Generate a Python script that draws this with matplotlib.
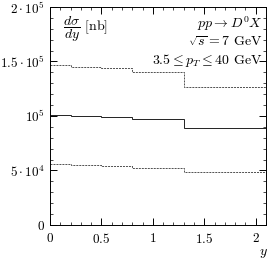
import numpy as np
import matplotlib
matplotlib.use("Agg")
import matplotlib.pyplot as plt
from matplotlib.ticker import FixedLocator, FixedFormatter, MultipleLocator

plt.rcParams["mathtext.fontset"] = "cm"
plt.rcParams["font.family"] = "serif"
plt.rcParams["font.serif"] = ["cmr10", "DejaVu Serif"]
plt.rcParams["axes.formatter.use_mathtext"] = True

# rapidity bin edges and d sigma / dy values [nb]
edges = [0.0, 0.2, 0.5, 0.8, 1.3, 2.1]
central = [101000, 100000, 99400, 96800, 89000]
upper = [146500, 145300, 143800, 140200, 126500]
lower = [55500, 55000, 54200, 52500, 48500]

ytick_vals = [0, 50000, 100000, 150000, 200000]
ytick_labels = [r"$0$", r"$5\cdot10^4$", r"$10^5$", r"$1.5\cdot10^5$", r"$2\cdot10^5$"]
xtick_vals = [0, 0.5, 1, 1.5, 2]
xtick_labels = [r"$0$", r"$0.5$", r"$1$", r"$1.5$", r"$2$"]


def step(ax, vals, **kw):
    ax.stairs(vals, edges, baseline=None, **kw)


fig = plt.figure(figsize=(2.69, 2.60), dpi=100)
ax = fig.add_axes([0.186, 0.135, 0.803, 0.838])

step(ax, central, color="#222222", lw=0.7)
step(ax, upper, color="#444444", lw=0.65, linestyle=(0, (2.2, 1.1)))
step(ax, lower, color="#444444", lw=0.65, linestyle=(0, (2.2, 1.1)))

ax.set_xlim(0, 2.1)
ax.set_ylim(0, 200000)
ax.yaxis.set_major_locator(FixedLocator(ytick_vals))
ax.yaxis.set_major_formatter(FixedFormatter(ytick_labels))
ax.xaxis.set_major_locator(FixedLocator(xtick_vals))
ax.xaxis.set_major_formatter(FixedFormatter(xtick_labels))
ax.xaxis.set_minor_locator(MultipleLocator(0.1))
ax.yaxis.set_minor_locator(MultipleLocator(10000))
ax.tick_params(which="both", direction="in", top=True, right=True, labelsize=9.5)
ax.tick_params(which="major", length=5, width=0.7)
ax.tick_params(which="minor", length=2.5, width=0.5)
ax.tick_params(axis="x", pad=5)
for s in ax.spines.values():
    s.set_linewidth(0.7)

ax.text(0.06, 0.965, r"$\dfrac{d\sigma}{dy}$ [nb]", transform=ax.transAxes,
        ha="left", va="top", fontsize=10)
ax.text(0.985, 0.925, r"$pp \rightarrow D^0 X$", transform=ax.transAxes,
        ha="right", va="center", fontsize=10)
ax.text(0.985, 0.84, r"$\sqrt{s} = 7$ GeV", transform=ax.transAxes,
        ha="right", va="center", fontsize=10)
ax.text(0.985, 0.755, r"$3.5 \leq p_T \leq 40$ GeV", transform=ax.transAxes,
        ha="right", va="center", fontsize=10)

ax.text(0.99, -0.13, r"$y$", transform=ax.transAxes,
        ha="center", va="center", fontsize=10)

fig.savefig("out.png", dpi=100)
